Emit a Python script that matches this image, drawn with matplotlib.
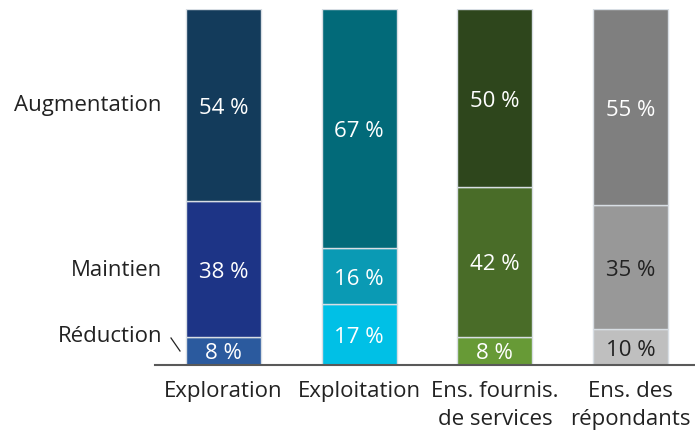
import matplotlib
matplotlib.use("Agg")
import matplotlib.pyplot as plt
import numpy as np

categories = ["Exploration", "Exploitation", "Ens. fournis.\nde services", "Ens. des\nrépondants"]
reduction = [8, 17, 8, 10]
maintien = [38, 16, 42, 35]
augmentation = [54, 67, 50, 55]
series_names = ["Réduction", "Maintien", "Augmentation"]

colors = {
    "Réduction": ["#2b5a9e", "#00c0e6", "#679a36", "#bfbfbf"],
    "Maintien": ["#1d3486", "#0a9ab4", "#496c28", "#989898"],
    "Augmentation": ["#133b5b", "#026a79", "#2e461c", "#7f7f7f"],
}
text_colors = {
    "Réduction": ["white", "white", "white", "#222222"],
    "Maintien": ["white", "white", "white", "#222222"],
    "Augmentation": ["white", "white", "white", "white"],
}

plt.rcParams['font.family'] = ['Open Sans', 'DejaVu Sans']

W, H = 695, 431
fig = plt.figure(figsize=(W / 100, H / 100), dpi=100)
ax = fig.add_axes([155 / W, (H - 366) / H, (W - 155) / W, (366 - 10) / H])

FS = 16
x = np.arange(len(categories))
width = 0.553
bottom = np.zeros(len(categories))
for name, vals in zip(series_names, [reduction, maintien, augmentation]):
    ax.bar(x, vals, width, bottom=bottom, color=colors[name],
           edgecolor="#d8dee4", linewidth=1.0, zorder=2)
    for i, (b, v) in enumerate(zip(bottom, vals)):
        ax.text(x[i], b + v / 2 - 0.6, f"{v} %", ha="center", va="center",
                fontsize=FS, color=text_colors[name][i], zorder=3)
    bottom += np.array(vals)

ax.set_xlim(-0.505, 3.475)
ax.set_ylim(0, 100)
for s in ["top", "right", "left"]:
    ax.spines[s].set_visible(False)
ax.spines["bottom"].set_color("#595959")
ax.spines["bottom"].set_linewidth(1.5)
ax.set_yticks([])
ax.set_xticks(x)
ax.set_xticklabels(categories, fontsize=FS, color="#222222", linespacing=1.4)
ax.tick_params(axis="x", length=0, pad=11)

# left side series labels
fig.text(162 / W, 1 - 106 / H, "Augmentation", ha="right", va="center", fontsize=FS, color="#222222")
fig.text(162 / W, 1 - 271 / H, "Maintien", ha="right", va="center", fontsize=FS, color="#222222")
fig.text(162 / W, 1 - 337 / H, "Réduction", ha="right", va="center", fontsize=FS, color="#222222")
fig.add_artist(plt.Line2D([171 / W, 180 / W], [1 - 339 / H, 1 - 352 / H], color="#222222", linewidth=0.9))

fig.savefig("out.png", dpi=100)
